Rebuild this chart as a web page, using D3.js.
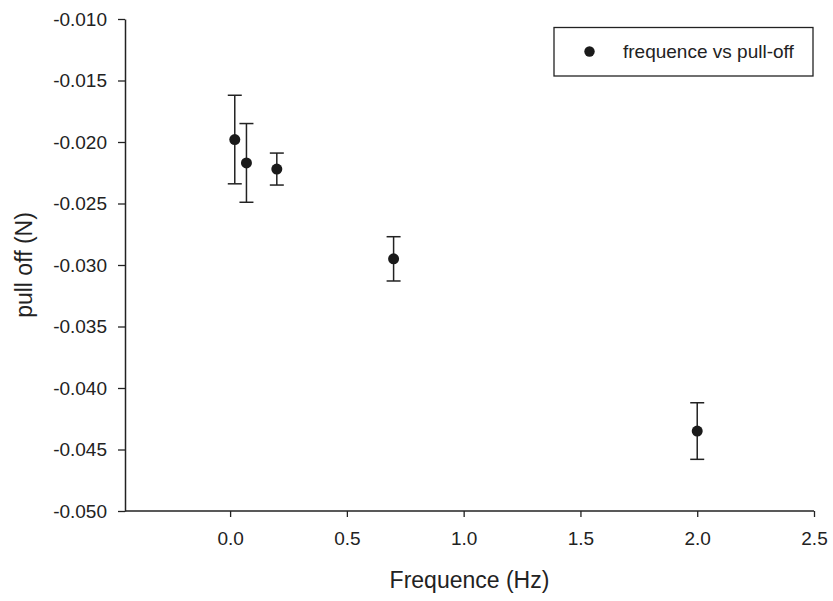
<!DOCTYPE html>
<html>
<head>
<meta charset="utf-8">
<script src="https://cdn.jsdelivr.net/npm/d3@7"></script>
<style>
  body { margin: 0; background: #fff; }
  svg text { font-family: Arial, "Liberation Sans", sans-serif; fill: #222; }
</style>
</head>
<body>
<svg id="chart" width="833" height="601"></svg>
<script>
// data
const freq = [0.02, 0.07, 0.2, 0.7, 2.0];
const pullOff = [-0.0198, -0.0217, -0.0222, -0.0295, -0.0435];
const pullErr = [0.0036, 0.0032, 0.0013, 0.0018, 0.0023];
const xTicks = [0.0, 0.5, 1.0, 1.5, 2.0, 2.5];
const yTicks = [-0.050, -0.045, -0.040, -0.035, -0.030, -0.025, -0.020, -0.015, -0.010];
const seriesName = 'frequence vs pull-off';

const svg = d3.select('#chart');
const margin = {left: 125, right: 19, top: 19, bottom: 90};
const width = 833, height = 601;
const ink = '#222';

const x = d3.scaleLinear().domain([-0.45, 2.5]).range([margin.left, width - margin.right]);
const y = d3.scaleLinear().domain([-0.050, -0.010]).range([height - margin.bottom, margin.top]);

// axes (plain hyphen for the minus sign, like the original)
const xAxis = svg.append('g')
    .attr('transform', `translate(0,${y(-0.050)})`)
    .call(d3.axisBottom(x).tickValues(xTicks).tickFormat(d => d.toFixed(1)).tickSize(6).tickPadding(15).tickSizeOuter(0));
const yAxis = svg.append('g')
    .attr('transform', `translate(${x(-0.45)},0)`)
    .call(d3.axisLeft(y).tickValues(yTicks).tickFormat(d => d.toFixed(3)).tickSize(7).tickPadding(11).tickSizeOuter(0));

[xAxis, yAxis].forEach(a => {
    a.select('.domain').attr('stroke', ink).attr('stroke-width', 1.5);
    a.selectAll('.tick line').attr('stroke', ink).attr('stroke-width', 1.3);
    a.selectAll('.tick text').attr('font-size', 19).attr('fill', ink)
        .style('font-family', 'Arial, "Liberation Sans", sans-serif');
});
xAxis.select('.domain').attr('d', `M${x(-0.45)},0H${x(2.5)}`);

// axis titles
svg.append('text')
    .attr('x', (x(-0.45) + x(2.5)) / 2)
    .attr('y', 588)
    .attr('text-anchor', 'middle')
    .attr('font-size', 23)
    .text('Frequence (Hz)');

svg.append('text')
    .attr('transform', `translate(32,${(y(-0.010) + y(-0.050)) / 2}) rotate(-90)`)
    .attr('text-anchor', 'middle')
    .attr('font-size', 23)
    .text('pull off (N)');

// error bars + points
const pts = freq.map((f, i) => ({f, v: pullOff[i], e: pullErr[i]}));
const capW = 7;
const bars = svg.append('g').attr('stroke', ink).attr('stroke-width', 1.5);
pts.forEach(d => {
    const cx = x(d.f);
    bars.append('line').attr('x1', cx).attr('x2', cx).attr('y1', y(d.v + d.e)).attr('y2', y(d.v - d.e));
    bars.append('line').attr('x1', cx - capW).attr('x2', cx + capW).attr('y1', y(d.v + d.e)).attr('y2', y(d.v + d.e));
    bars.append('line').attr('x1', cx - capW).attr('x2', cx + capW).attr('y1', y(d.v - d.e)).attr('y2', y(d.v - d.e));
});

svg.append('g').selectAll('circle').data(pts).join('circle')
    .attr('cx', d => x(d.f))
    .attr('cy', d => y(d.v))
    .attr('r', 5.5)
    .attr('fill', '#1a1a1a');

// legend
const legend = svg.append('g');
legend.append('rect')
    .attr('x', 554).attr('y', 27.5)
    .attr('width', 259).attr('height', 48.5)
    .attr('fill', '#fff').attr('stroke', ink).attr('stroke-width', 1.3);
legend.append('circle').attr('cx', 589.5).attr('cy', 51.5).attr('r', 5.2).attr('fill', '#1a1a1a');
legend.append('text').attr('x', 623).attr('y', 57.5).attr('font-size', 19).text(seriesName);
</script>
</body>
</html>
